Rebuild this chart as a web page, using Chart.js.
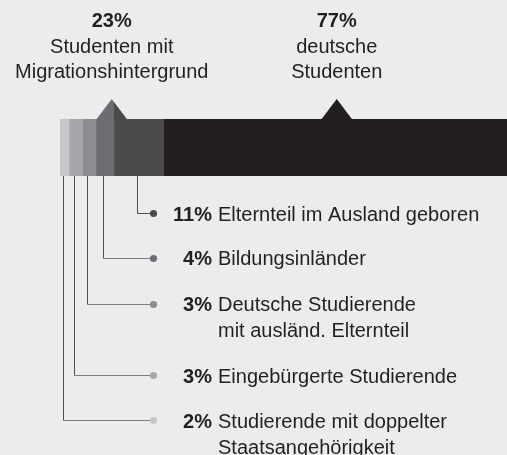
<!DOCTYPE html>
<html>
<head>
<meta charset="utf-8">
<script src="https://cdn.jsdelivr.net/npm/chart.js@4/dist/chart.umd.min.js"></script>
<style>
  html, body { margin: 0; padding: 0; background: #ececee; }
  #wrap { width: 507px; height: 455px; }
</style>
</head>
<body>
<div id="wrap"><canvas id="c" width="507" height="455"></canvas></div>
<script>
// shares of all students, in percent (lightest segment first)
var categories = ["Studierende"];
var segmentValues = [2, 3, 3, 4, 11, 77];
var segmentColors = ["#c6c7c9", "#a6a7aa", "#8c8d90", "#6c6d70", "#4a4b4d", "#231f20"];

// the 23% group and the 77% group shown on top
var groupValues = [23, 77];
var groupLabels = [["Studenten mit", "Migrationshintergrund"], ["deutsche", "Studenten"]];

// callouts below the bar, top to bottom (index into segmentValues)
var calloutSegment = [4, 3, 2, 1, 0];
var calloutLabels = [
  ["Elternteil im Ausland geboren"],
  ["Bildungsinländer"],
  ["Deutsche Studierende", "mit ausländ. Elternteil"],
  ["Eingebürgerte Studierende"],
  ["Studierende mit doppelter", "Staatsangehörigkeit"]
];

var FONT = '"Liberation Sans", Arial, sans-serif';
var TEXT = "#231f20";

var datasets = segmentValues.map(function (v, i) {
  return {
    data: [v],
    backgroundColor: segmentColors[i],
    borderWidth: 0,
    barPercentage: 1,
    categoryPercentage: 1
  };
});

var annotations = {
  id: "annotations",
  afterDatasetsDraw: function (chart, args, opts) {
    var ctx = chart.ctx;
    var x = chart.scales.x;
    var area = chart.chartArea;
    var top = area.top, bottom = area.bottom;

    // segment bounds in pixels
    var bounds = [];
    var acc = 0;
    segmentValues.forEach(function (v) {
      bounds.push([x.getPixelForValue(acc), x.getPixelForValue(acc + v)]);
      acc += v;
    });

    ctx.save();
    // triangles + group labels
    var gStart = 0;
    groupValues.forEach(function (g, gi) {
      var cx = (x.getPixelForValue(gStart) + x.getPixelForValue(gStart + g)) / 2;
      gStart += g;
      // triangle, coloured by the segments under it
      bounds.forEach(function (b, si) {
        ctx.save();
        ctx.beginPath();
        ctx.rect(b[0], 0, b[1] - b[0], top + 1);
        ctx.clip();
        ctx.beginPath();
        ctx.moveTo(cx - opts.triHalf, top + 0.5);
        ctx.lineTo(cx, top - opts.triHeight);
        ctx.lineTo(cx + opts.triHalf, top + 0.5);
        ctx.closePath();
        ctx.fillStyle = segmentColors[si];
        ctx.fill();
        ctx.restore();
      });
      ctx.fillStyle = TEXT;
      ctx.textAlign = "center";
      ctx.textBaseline = "alphabetic";
      ctx.font = "bold " + opts.fontSize + "px " + FONT;
      ctx.fillText(g + "%", cx, opts.groupBase[0]);
      ctx.font = opts.fontSize + "px " + FONT;
      groupLabels[gi].forEach(function (line, li) {
        ctx.fillText(line, cx, opts.groupBase[li + 1]);
      });
    });

    // callouts
    calloutSegment.forEach(function (si, ri) {
      var b = bounds[si];
      var lx = Math.round((b[0] + b[1]) / 2) - 1.5;
      var ry = Math.round(opts.rowY[ri]) + 0.5;
      ctx.lineWidth = 1;
      ctx.strokeStyle = "#4f5052";
      ctx.beginPath();
      ctx.moveTo(lx, bottom);
      ctx.lineTo(lx, ry);
      ctx.stroke();
      ctx.strokeStyle = si === 4 ? "#4a4b4d" : "#7b7c7e";
      ctx.beginPath();
      ctx.moveTo(lx, ry);
      ctx.lineTo(opts.dotX, ry);
      ctx.stroke();
      ctx.beginPath();
      ctx.arc(opts.dotX, ry, 3.6, 0, Math.PI * 2);
      ctx.fillStyle = segmentColors[si];
      ctx.fill();

      var base = opts.rowY[ri] + 7.5;
      ctx.fillStyle = TEXT;
      ctx.textBaseline = "alphabetic";
      ctx.font = "bold " + opts.fontSize + "px " + FONT;
      ctx.textAlign = "right";
      ctx.fillText(segmentValues[si] + "%", opts.pctRight, base);
      ctx.font = opts.fontSize + "px " + FONT;
      ctx.textAlign = "left";
      calloutLabels[ri].forEach(function (line, li) {
        ctx.fillText(line, opts.labelLeft, base + li * opts.lineHeight);
      });
    });
    ctx.restore();
  }
};

new Chart(document.getElementById("c"), {
  type: "bar",
  data: { labels: categories, datasets: datasets },
  options: {
    indexAxis: "y",
    responsive: false,
    animation: false,
    layout: { padding: { left: 60, top: 119, right: 0, bottom: 279 } },
    scales: {
      x: { stacked: true, display: false, min: 0, max: 99.33 },
      y: { stacked: true, display: false }
    },
    plugins: {
      legend: { display: false },
      tooltip: { enabled: false },
      annotations: {
        fontSize: 20,
        triHalf: 15.5,
        triHeight: 20,
        groupBase: [27, 53, 78],
        rowY: [213, 257.5, 303.5, 375, 420],
        dotX: 153.5,
        pctRight: 212,
        labelLeft: 218,
        lineHeight: 26
      }
    }
  },
  plugins: [annotations]
});
</script>
</body>
</html>
